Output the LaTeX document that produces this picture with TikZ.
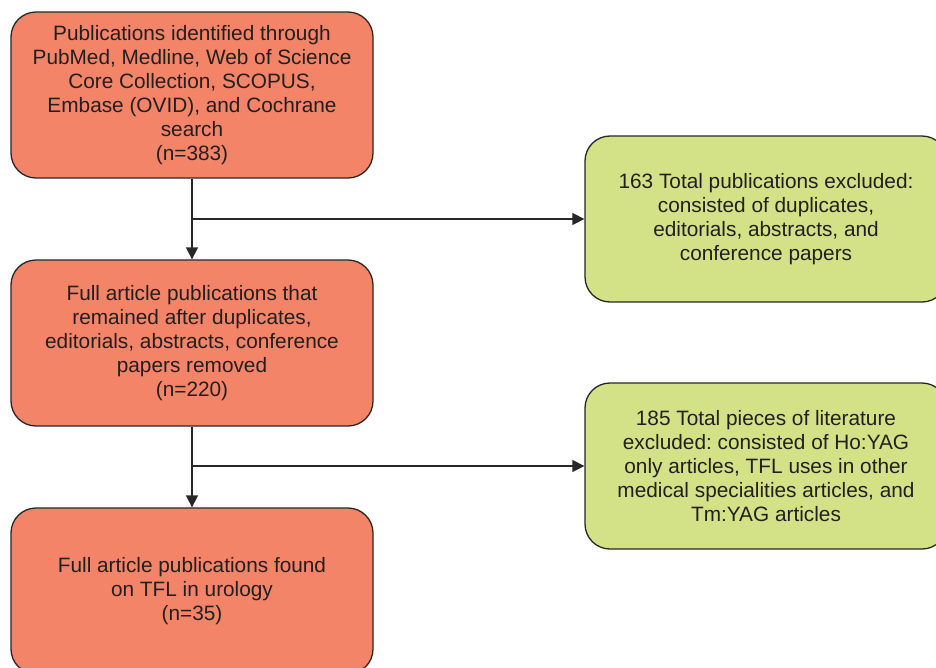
\documentclass[tikz,border=0pt]{standalone}
\usepackage{fontspec}
\setmainfont{Liberation Sans}
\usetikzlibrary{arrows.meta}
\frenchspacing
\definecolor{orangefill}{RGB}{243,132,104}
\definecolor{greenfill}{RGB}{212,226,135}
\definecolor{edgegray}{RGB}{40,38,40}
\definecolor{textgray}{RGB}{35,31,32}
\tikzset{
  x=1pt, y=1pt,
  basebox/.style={draw=edgegray, line width=1.3pt, rounded corners=25pt,
    minimum height=166pt, align=center, text=textgray,
    font=\fontsize{20.8}{24}\selectfont\frenchspacing, inner sep=0pt},
  orangebox/.style={basebox, fill=orangefill, minimum width=362pt},
  greenbox/.style={basebox, fill=greenfill, minimum width=362pt},
  conn/.style={draw=edgegray, line width=1.3pt, -{Triangle[length=12pt,width=12pt]}},
  plainconn/.style={draw=edgegray, line width=1.3pt}
}
\begin{document}
\begin{tikzpicture}
\useasboundingbox (0,0) rectangle (936,-667);
\node[orangebox] (b1) at (192,-95) {Publications identified through\\PubMed, Medline, Web of Science\\Core Collection, SCOPUS,\\Embase (OVID), and Cochrane\\search\\(n=383)};
\node[orangebox] (b2) at (192,-343) {Full article publications that\\remained after duplicates,\\editorials, abstracts, conference\\papers removed\\(n=220)};
\node[orangebox] (b3) at (192,-591) {Full article publications found\\on TFL in urology\\(n=35)};
\node[greenbox] (g1) at (766,-219) {163 Total publications excluded:\\consisted of duplicates,\\editorials, abstracts, and\\conference papers};
\node[greenbox] (g2) at (766,-466) {185 Total pieces of literature\\excluded: consisted of Ho:YAG\\only articles, TFL uses in other\\medical specialities articles, and\\Tm:YAG articles};
\coordinate (j1) at (b1.south |- g1.west);
\coordinate (j2) at (b2.south |- g2.west);
\draw[plainconn] (b1.south) -- (j1);
\draw[conn] (j1) -- (b2.north);
\draw[conn] (j1) -- (g1.west);
\draw[plainconn] (b2.south) -- (j2);
\draw[conn] (j2) -- (b3.north);
\draw[conn] (j2) -- (g2.west);
\end{tikzpicture}
\end{document}
